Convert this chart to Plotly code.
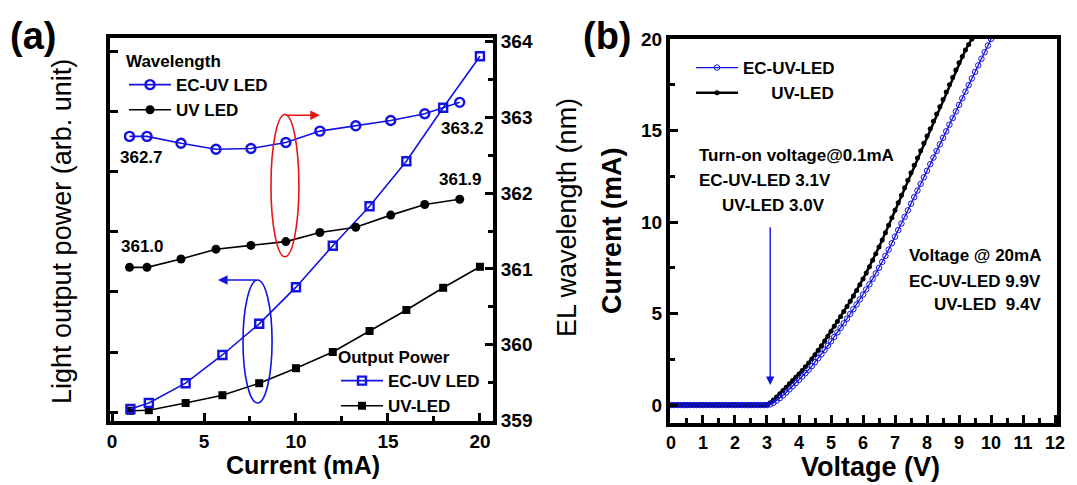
import plotly.graph_objects as go

W, H = 1077, 485


def px(x):
    return x / W


def py(y):
    return 1 - y / H


FONT = "Liberation Sans, Arial, sans-serif"
BLUE = "rgb(18,18,225)"
RED = "rgb(235,20,20)"

# ---------------- Panel (a) data ----------------
power_current = [1, 2, 4, 6, 8, 10, 12, 14, 16, 18, 20]
power_ec = [0.05, 0.15, 0.48, 0.95, 1.47, 2.08, 2.77, 3.43, 4.18, 5.07, 5.93]
power_uv = [0.02, 0.03, 0.15, 0.28, 0.48, 0.73, 1.0, 1.35, 1.7, 2.07, 2.42]

wl_current = [0.95, 1.9, 3.75, 5.65, 7.55, 9.45, 11.3, 13.25, 15.15, 17.0, 18.9]
wl_ec = [362.75, 362.75, 362.66, 362.58, 362.59, 362.67, 362.82, 362.89, 362.96, 363.05, 363.2]
wl_uv = [361.02, 361.02, 361.13, 361.26, 361.31, 361.36, 361.48, 361.55, 361.71, 361.85, 361.92]

# ---------------- Panel (b) data ----------------
iv_voltage_ec = [
    0.0, 0.1, 0.2, 0.3, 0.4, 0.5, 0.6, 0.7, 0.8, 0.9,
    1.0, 1.1, 1.2, 1.3, 1.4, 1.5, 1.6, 1.7, 1.8, 1.9,
    2.0, 2.1, 2.2, 2.3, 2.4, 2.5, 2.6, 2.7, 2.8, 2.9,
    3.0, 3.1, 3.2, 3.3, 3.4, 3.5, 3.6, 3.7, 3.8, 3.9,
    4.0, 4.1, 4.2, 4.3, 4.4, 4.5, 4.6, 4.7, 4.8, 4.9,
    5.0, 5.1, 5.2, 5.3, 5.4, 5.5, 5.6, 5.7, 5.8, 5.9,
    6.0, 6.1, 6.2, 6.3, 6.4, 6.5, 6.6, 6.7, 6.8, 6.9,
    7.0, 7.1, 7.2, 7.3, 7.4, 7.5, 7.6, 7.7, 7.8, 7.9,
    8.0, 8.1, 8.2, 8.3, 8.4, 8.5, 8.6, 8.7, 8.8, 8.9,
    9.0, 9.1, 9.2, 9.3, 9.4, 9.5, 9.6, 9.7, 9.8, 9.9,
    10.0,
]
iv_current_ec = [
    0, 0, 0, 0, 0, 0, 0, 0, 0, 0,
    0, 0, 0, 0, 0, 0, 0, 0, 0, 0,
    0, 0, 0, 0, 0, 0, 0, 0, 0, 0,
    0.0, 0.04, 0.12, 0.24, 0.38, 0.53, 0.69, 0.86, 1.03, 1.2,
    1.38, 1.56, 1.74, 1.93, 2.13, 2.34, 2.56, 2.78, 3.01, 3.24,
    3.48, 3.72, 3.97, 4.22, 4.47, 4.72, 4.98, 5.24, 5.5, 5.77,
    6.04, 6.32, 6.6, 6.89, 7.19, 7.5, 7.82, 8.15, 8.49, 8.84,
    9.2, 9.56, 9.92, 10.28, 10.64, 11.0, 11.36, 11.72, 12.08, 12.44,
    12.8, 13.16, 13.52, 13.88, 14.24, 14.6, 14.96, 15.32, 15.68, 16.04,
    16.4, 16.76, 17.12, 17.48, 17.84, 18.2, 18.56, 18.92, 19.28, 19.64,
    20.0,
]
iv_voltage_uv = [
    0.0, 0.1, 0.2, 0.3, 0.4, 0.5, 0.6, 0.7, 0.8, 0.9,
    1.0, 1.1, 1.2, 1.3, 1.4, 1.5, 1.6, 1.7, 1.8, 1.9,
    2.0, 2.1, 2.2, 2.3, 2.4, 2.5, 2.6, 2.7, 2.8, 2.9,
    3.0, 3.1, 3.2, 3.3, 3.4, 3.5, 3.6, 3.7, 3.8, 3.9,
    4.0, 4.1, 4.2, 4.3, 4.4, 4.5, 4.6, 4.7, 4.8, 4.9,
    5.0, 5.1, 5.2, 5.3, 5.4, 5.5, 5.6, 5.7, 5.8, 5.9,
    6.0, 6.1, 6.2, 6.3, 6.4, 6.5, 6.6, 6.7, 6.8, 6.9,
    7.0, 7.1, 7.2, 7.3, 7.4, 7.5, 7.6, 7.7, 7.8, 7.9,
    8.0, 8.1, 8.2, 8.3, 8.4, 8.5, 8.6, 8.7, 8.8, 8.9,
    9.0, 9.1, 9.2, 9.3, 9.4,
]
iv_current_uv = [
    0, 0, 0, 0, 0, 0, 0, 0, 0, 0,
    0, 0, 0, 0, 0, 0, 0, 0, 0, 0,
    0, 0, 0, 0, 0, 0, 0, 0, 0, 0,
    0.03, 0.12, 0.27, 0.44, 0.62, 0.8, 0.98, 1.16, 1.34, 1.52,
    1.7, 1.89, 2.09, 2.3, 2.52, 2.75, 2.99, 3.24, 3.5, 3.76,
    4.03, 4.3, 4.57, 4.84, 5.11, 5.39, 5.67, 5.96, 6.26, 6.57,
    6.89, 7.22, 7.56, 7.91, 8.27, 8.64, 9.02, 9.42, 9.82, 10.23,
    10.64, 11.05, 11.46, 11.87, 12.28, 12.69, 13.1, 13.5, 13.9, 14.3,
    14.7, 15.1, 15.5, 15.9, 16.3, 16.7, 17.1, 17.5, 17.9, 18.3,
    18.7, 19.05, 19.4, 19.7, 20.0,
]

fig = go.Figure()

# --- panel (a): wavelength (right axis)
fig.add_trace(go.Scatter(
    x=wl_current, y=wl_ec, xaxis="x", yaxis="y2", name="EC-UV LED",
    mode="lines+markers", legend="legend", legendrank=1,
    line=dict(color=BLUE, width=1.6),
    marker=dict(symbol="circle-open", size=9, color=BLUE, line=dict(width=2.4, color=BLUE)),
))
fig.add_trace(go.Scatter(
    x=wl_current, y=wl_uv, xaxis="x", yaxis="y2", name="UV LED",
    mode="lines+markers", legend="legend", legendrank=2,
    line=dict(color="black", width=1.6),
    marker=dict(symbol="circle", size=9, color="black"),
))
# --- panel (a): output power (left axis)
fig.add_trace(go.Scatter(
    x=power_current, y=power_uv, xaxis="x", yaxis="y", name="UV-LED",
    mode="lines+markers", legend="legend2", legendrank=2,
    line=dict(color="black", width=1.6),
    marker=dict(symbol="square", size=8, color="black"),
))
fig.add_trace(go.Scatter(
    x=power_current, y=power_ec, xaxis="x", yaxis="y", name="EC-UV LED",
    mode="lines+markers", legend="legend2", legendrank=1,
    line=dict(color=BLUE, width=1.6),
    marker=dict(symbol="square-open", size=8, color=BLUE, line=dict(width=2.4, color=BLUE)),
))
# --- panel (b): I-V curves
fig.add_trace(go.Scatter(
    x=iv_voltage_uv, y=iv_current_uv, xaxis="x2", yaxis="y3",
    name="\u00a0\u00a0\u00a0\u00a0\u00a0\u00a0UV-LED",
    mode="lines+markers", legend="legend3", legendrank=2,
    line=dict(color="black", width=2.5),
    marker=dict(symbol="circle", size=5, color="black"),
))
fig.add_trace(go.Scatter(
    x=iv_voltage_ec, y=iv_current_ec, xaxis="x2", yaxis="y3", name="EC-UV-LED",
    mode="lines+markers", legend="legend3", legendrank=1,
    line=dict(color=BLUE, width=1.3),
    marker=dict(symbol="circle-open", size=5.5, color=BLUE, line=dict(width=1.0, color=BLUE)),
))

tickfont = dict(family=FONT, size=19, color="black", weight="bold")
axis_common = dict(
    showline=True, linewidth=4, linecolor="black", mirror=True,
    showgrid=False, zeroline=False, ticks="inside", tickwidth=3,
    tickcolor="black", ticklen=8, automargin=False,
)

legfont = dict(family=FONT, size=17, color="black", weight="bold")

fig.update_layout(
    width=W, height=H,
    margin=dict(l=0, r=0, t=0, b=0, pad=0, autoexpand=False),
    paper_bgcolor="white", plot_bgcolor="white",
    xaxis=dict(domain=[px(110), px(493)], range=[-0.11, 20.71], anchor="y",
               dtick=5, tick0=0, tickfont=tickfont,
               minor=dict(dtick=2.5, ticks="inside", ticklen=5, tickwidth=3, tickcolor="black"),
               **axis_common),
    yaxis=dict(domain=[py(421), py(38)], range=[-0.15, 6.233], anchor="x",
               dtick=1, tick0=0, showticklabels=False, **axis_common),
    yaxis2=dict(overlaying="y", side="right", anchor="x", range=[358.99, 364.05],
                dtick=1, tick0=359, tickfont=tickfont,
                minor=dict(dtick=0.5, ticks="inside", ticklen=5, tickwidth=3, tickcolor="black"),
                **axis_common),
    xaxis2=dict(domain=[px(670), px(1057)], range=[-0.03, 12.06], anchor="y3",
                dtick=1, tick0=0, tickfont=dict(tickfont, size=18),
                minor=dict(dtick=0.5, ticks="inside", ticklen=5, tickwidth=3, tickcolor="black"),
                **axis_common),
    yaxis3=dict(domain=[py(423), py(39)], range=[-0.98, 20.0], anchor="x2",
                dtick=5, tick0=0, tickfont=tickfont,
                minor=dict(dtick=2.5, ticks="inside", ticklen=5, tickwidth=3, tickcolor="black"),
                **axis_common),
    legend=dict(x=px(124), y=py(45), xanchor="left", yanchor="top",
                bgcolor="rgba(0,0,0,0)", font=legfont, itemwidth=42, tracegroupgap=0,
                title=dict(text="Wavelength", font=legfont)),
    legend2=dict(x=px(336), y=py(341), xanchor="left", yanchor="top",
                 bgcolor="rgba(0,0,0,0)", font=legfont, itemwidth=42, tracegroupgap=0,
                 title=dict(text="Output Power", font=legfont)),
    legend3=dict(x=px(691), y=py(50), xanchor="left", yanchor="top",
                 bgcolor="rgba(0,0,0,0)", font=legfont, itemwidth=42, tracegroupgap=0),
    showlegend=True,
)

# ellipses
fig.add_shape(type="circle", xref="x", yref="y2", x0=8.64, x1=10.16, y0=361.16, y1=363.04,
              line=dict(color=RED, width=1.6))
fig.add_shape(type="circle", xref="x", yref="y", x0=7.12, x1=8.7, y0=0.15, y1=2.2,
              line=dict(color=BLUE, width=1.6))

ann = []
# arrows
ann.append(dict(x=11.3, y=363.03, xref="x", yref="y2", ax=9.35, ay=363.03, axref="x", ayref="y2",
                text="", showarrow=True, arrowhead=2, arrowsize=1.2, arrowwidth=1.6, arrowcolor=RED))
ann.append(dict(x=5.76, y=2.2, xref="x", yref="y", ax=7.9, ay=2.2, axref="x", ayref="y",
                text="", showarrow=True, arrowhead=2, arrowsize=1.2, arrowwidth=1.6, arrowcolor=BLUE))
ann.append(dict(x=3.1, y=1.1, xref="x2", yref="y3", ax=3.1, ay=9.8, axref="x2", ayref="y3",
                text="", showarrow=True, arrowhead=2, arrowsize=1.2, arrowwidth=1.4, arrowcolor=BLUE))

lab = dict(family=FONT, size=17, color="black", weight="bold")


def txt(x, y, s, anchor="center", font=lab, angle=0):
    ann.append(dict(x=px(x), y=py(y), xref="paper", yref="paper", text=s, showarrow=False,
                    xanchor=anchor, yanchor="middle", font=font, textangle=angle))


# value labels panel (a)
txt(141, 158, "362.7")
txt(462, 129, "363.2")
txt(460, 179, "361.9")
txt(142, 247, "361.0")

# panel (b) texts
txt(697, 155, "Turn-on voltage@0.1mA", "left")
txt(697, 180, "EC-UV-LED 3.1V", "left")
txt(720, 205, "UV-LED 3.0V", "left")
txt(1043, 255, "Voltage @ 20mA", "right")
txt(1043, 281, "EC-UV-LED 9.9V", "right")
txt(1043, 304, "UV-LED\u00a0\u00a09.4V", "right")

# panel letters
big = dict(family=FONT, size=38, color="black", weight="bold")
txt(8, 36, "(a)", "left", big)
txt(581, 36, "(b)", "left", big)

# axis titles
ttl_b = dict(family=FONT, size=25, color="black", weight="bold")
ttl_r = dict(family=FONT, size=27, color="black")
txt(303, 465, "Current (mA)", "center", ttl_b)
txt(870, 467, "Voltage (V)", "center", dict(family=FONT, size=27, color="black", weight="bold"))
txt(62, 232, "Light output power (arb. unit)", "center", ttl_r, -90)
txt(567, 218, "EL wavelength (nm)", "center", ttl_r, -90)
txt(612, 231, "Current (mA)", "center", dict(family=FONT, size=27, color="black", weight="bold"), -90)

fig.update_layout(annotations=ann)

fig.write_html("out.html")
